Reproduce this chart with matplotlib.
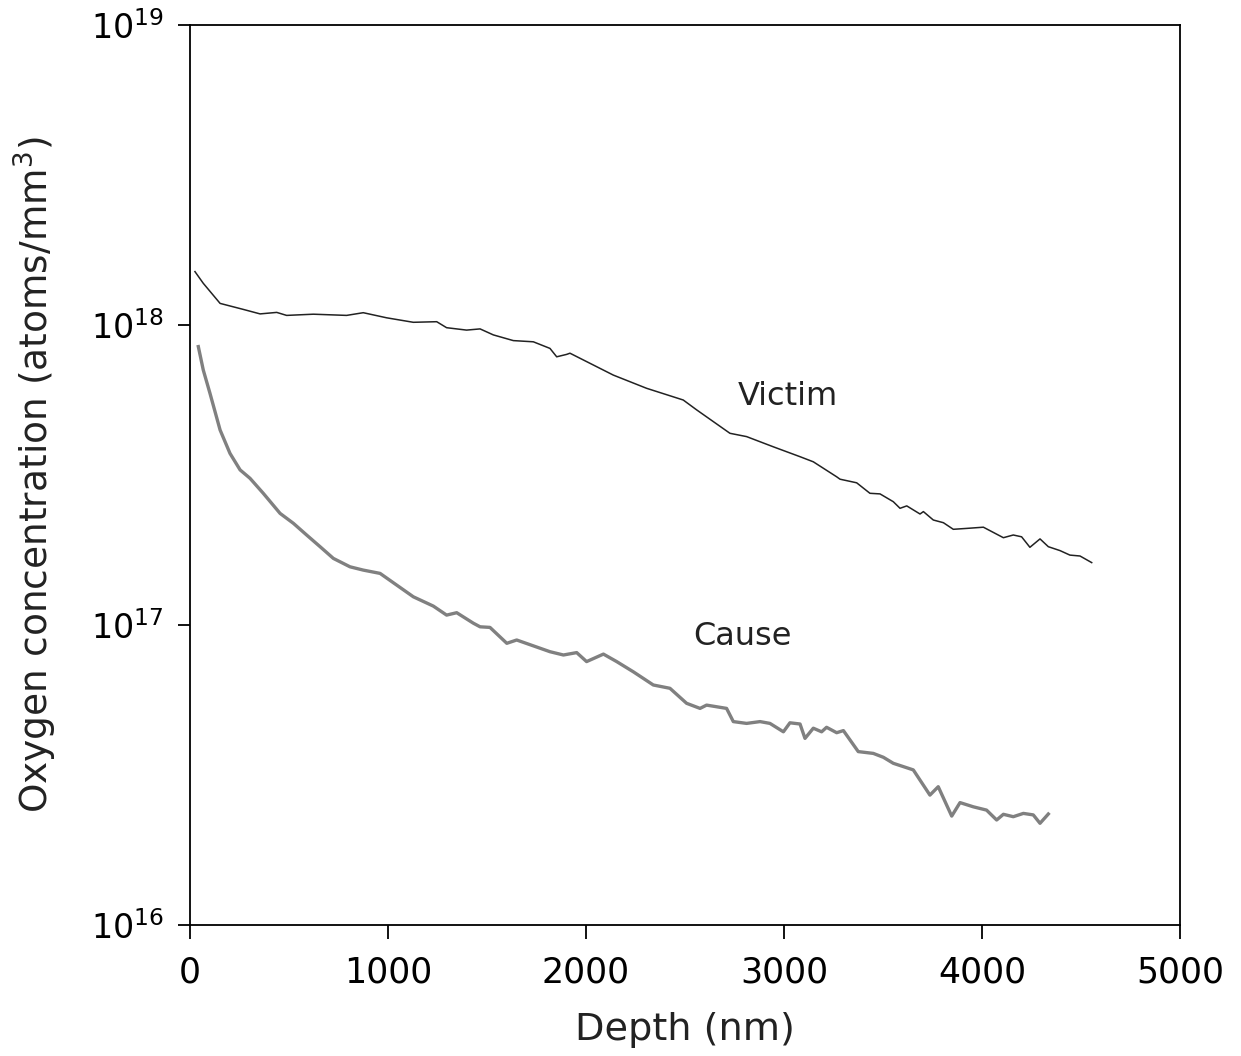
import matplotlib
matplotlib.use("Agg")
import matplotlib.pyplot as plt
from matplotlib.ticker import NullLocator, FixedLocator

# Victim profile: depth (nm) and log10 of concentration (atoms/mm^3)
victim_depth = [25, 67, 152, 269, 354, 438, 488, 623, 791, 875, 993, 1128, 1246, 1296,
                1397, 1465, 1532, 1633, 1734, 1818, 1852, 1902, 1919, 2003, 2138, 2306,
                2491, 2559, 2727, 2811, 2946, 3081, 3148, 3266, 3283, 3367, 3434, 3485,
                3552, 3586, 3620, 3687, 3704, 3754, 3805, 3855, 3923, 4007, 4108, 4158,
                4200, 4242, 4293, 4335, 4394, 4444, 4495, 4554]
victim_log = [18.178, 18.139, 18.072, 18.052, 18.037, 18.042, 18.032, 18.036, 18.032,
              18.041, 18.024, 18.009, 18.011, 17.991, 17.983, 17.987, 17.967, 17.948,
              17.944, 17.922, 17.894, 17.902, 17.906, 17.878, 17.833, 17.789, 17.750,
              17.717, 17.639, 17.628, 17.594, 17.561, 17.544, 17.494, 17.486, 17.474,
              17.439, 17.437, 17.411, 17.389, 17.397, 17.370, 17.378, 17.350, 17.341,
              17.319, 17.322, 17.326, 17.291, 17.300, 17.294, 17.259, 17.287, 17.261,
              17.248, 17.233, 17.230, 17.208]

# Cause profile
cause_depth = [42, 67, 101, 152, 202, 253, 303, 370, 455, 522, 589, 657, 724, 808, 875,
               960, 1044, 1128, 1229, 1296, 1347, 1431, 1465, 1515, 1600, 1650, 1818,
               1886, 1953, 2003, 2088, 2155, 2239, 2340, 2424, 2508, 2576, 2609, 2710,
               2744, 2811, 2879, 2929, 2997, 3030, 3081, 3106, 3148, 3190, 3215, 3266,
               3300, 3375, 3451, 3502, 3552, 3653, 3737, 3779, 3847, 3889, 3956, 4023,
               4074, 4108, 4158, 4209, 4259, 4293, 4335]
cause_log = [17.928, 17.850, 17.772, 17.650, 17.572, 17.517, 17.489, 17.439, 17.372,
             17.339, 17.300, 17.261, 17.222, 17.194, 17.183, 17.172, 17.133, 17.094,
             17.063, 17.033, 17.041, 17.006, 16.994, 16.992, 16.939, 16.950, 16.911,
             16.900, 16.908, 16.878, 16.903, 16.878, 16.844, 16.800, 16.789, 16.739,
             16.722, 16.733, 16.722, 16.678, 16.672, 16.678, 16.672, 16.644, 16.674,
             16.670, 16.622, 16.656, 16.644, 16.659, 16.641, 16.648, 16.578, 16.572,
             16.559, 16.539, 16.517, 16.433, 16.461, 16.363, 16.408, 16.394, 16.383,
             16.350, 16.369, 16.361, 16.372, 16.367, 16.339, 16.370]

x_ticks = [0, 1000, 2000, 3000, 4000, 5000]
y_ticks = [1e16, 1e17, 1e18, 1e19]
y_tick_labels = [r'$10^{16}$', r'$10^{17}$', r'$10^{18}$', r'$10^{19}$']

victim_conc = [10 ** v for v in victim_log]
cause_conc = [10 ** v for v in cause_log]

plt.rcParams['font.family'] = ['DejaVu Sans']
plt.rcParams['mathtext.fontset'] = 'dejavusans'

fig = plt.figure(figsize=(12.41, 10.56), dpi=100)
ax = fig.add_axes([190 / 1241, 1 - 925 / 1056, 990 / 1241, 900 / 1056])

ax.plot(victim_depth, victim_conc, color='#222222', linewidth=1.1)
ax.plot(cause_depth, cause_conc, color='#808080', linewidth=2.4)

ax.set_yscale('log')
ax.set_xlim(0, 5000)
ax.set_ylim(1e16, 1e19)
ax.xaxis.set_major_locator(FixedLocator(x_ticks))
ax.yaxis.set_major_locator(FixedLocator(y_ticks))
ax.yaxis.set_minor_locator(NullLocator())
ax.set_yticklabels(y_tick_labels)

for sp in ax.spines.values():
    sp.set_linewidth(1.3)
ax.tick_params(axis='x', direction='out', length=10, width=1.3, labelsize=25, pad=12)
ax.tick_params(axis='y', direction='out', length=9, width=1.3, labelsize=24, pad=10)

ax.text(3020, 10 ** 17.763, 'Victim', fontsize=23, color='#222222', ha='center', va='center')
ax.text(2788, 10 ** 16.963, 'Cause', fontsize=23, color='#222222', ha='center', va='center')

ax.set_xlabel('Depth (nm)', fontsize=27.5, color='#222222')
ax.set_ylabel(r'Oxygen concentration (atoms/mm$^3$)', fontsize=27, color='#222222')
ax.xaxis.set_label_coords(0.5, -0.097)
ax.yaxis.set_label_coords(-0.132, 0.5)

fig.savefig('out.png', dpi=100)
